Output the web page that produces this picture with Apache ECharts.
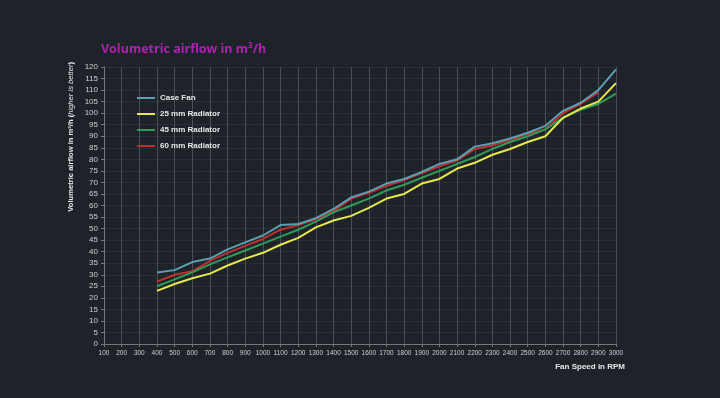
<!DOCTYPE html>
<html><head><meta charset="utf-8">
<script src="https://cdn.jsdelivr.net/npm/echarts@6/dist/echarts.min.js"></script>
<style>html,body{margin:0;padding:0;background:#1e2229;}#c{width:720px;height:398px;}</style>
</head><body><div id="c"></div>
<script>
const rpm = [400,500,600,700,800,900,1000,1100,1200,1300,1400,1500,1600,1700,1800,1900,2000,2100,2200,2300,2400,2500,2600,2700,2800,2900,3000];
const caseFan = [31,32,35.5,37,41,44,47,51.5,52,54.5,58.5,63.5,66,69.5,71.5,74.5,78,80,85.5,87,89,91.5,94.5,101,104.5,110,119];
const rad25 = [23,26,28.5,30.5,34,37,39.5,43,46,50.5,53.5,55.5,59,63,65,69.5,71.5,76,78.5,82,84.5,87.5,90,98,102,105,113];
const rad45 = [25,28,31,34.5,37.5,40.5,43.5,46.5,49.5,53,57,60,63,66.5,69,72,75,78,81,84.5,87.5,90,93,98,101.5,104,108.5];
const rad60 = [27,30,31.5,36,39.5,42.5,45.5,49.5,51.5,54,57.5,63,65.5,68.5,71,74,77,79.5,84.5,86,88.5,91,93,100,104,109];
const seriesNames = ['Case Fan','25 mm Radiator','45 mm Radiator','60 mm Radiator'];
const colors = ['#5b9fb3','#e6e84c','#2e9c58','#c1302f'];
const allData = [caseFan, rad25, rad45, rad60];

const chart = echarts.init(document.getElementById('c'));
chart.setOption({
  backgroundColor:'#1e2229',
  animation:false,
  title:{text:'Volumetric airflow in m³/h',left:96,top:38,textStyle:{color:'#b41eb4',fontSize:12.5,fontWeight:'bold',fontFamily:'Open Sans'}},
  legend:{orient:'vertical',left:132,top:89,itemGap:8,itemWidth:18,itemHeight:2,icon:'rect',
    textStyle:{color:'#e8e8e8',fontSize:8,fontWeight:'bold',fontFamily:'Liberation Sans'},data:seriesNames},
  graphic:[{type:'text',left:67,top:62,rotation:Math.PI/2,
    style:{text:'{a|Volumetric airflow in m³/h (}{b|higher is better}{a|)}',
      rich:{a:{fill:'#e8e8e8',fontSize:7.6,fontWeight:'bold',fontFamily:'Liberation Sans'},b:{fill:'#e8e8e8',fontSize:7.6,fontStyle:'italic',fontFamily:'Liberation Sans'}}}}],
  grid:{left:104,right:104,top:67,bottom:54},
  xAxis:{type:'value',min:100,max:3000,interval:100,
    name:'Fan Speed in RPM',nameLocation:'end',nameGap:0,
    nameTextStyle:{color:'#e8e8e8',fontSize:8,fontWeight:'bold',fontFamily:'Liberation Sans',align:'right',verticalAlign:'top',padding:[19,-9,0,0]},
    axisLine:{lineStyle:{color:'#777'}},axisTick:{show:true,length:3,lineStyle:{color:'#777'}},
    axisLabel:{color:'#cfcfcf',fontSize:6.5,fontFamily:'Liberation Sans',margin:6,formatter:v=>String(v)},
    splitLine:{show:true,lineStyle:{color:'#4a4e55',width:1}}},
  yAxis:{type:'value',min:0,max:120,interval:5,
    axisLine:{show:true,lineStyle:{color:'#777'}},axisTick:{show:true,length:3,lineStyle:{color:'#777'}},
    axisLabel:{color:'#cfcfcf',fontSize:8,fontFamily:'Liberation Sans',margin:6},
    splitLine:{show:true,lineStyle:{color:'#2a2e35',width:1}}},
  series: seriesNames.map((n,i)=>({
    name:n,type:'line',symbol:'none',
    data: allData[i].map((v,j)=>[rpm[j],v]),
    lineStyle:{color:colors[i],width:2},itemStyle:{color:colors[i]},z:10-i
  }))
});
</script></body></html>
